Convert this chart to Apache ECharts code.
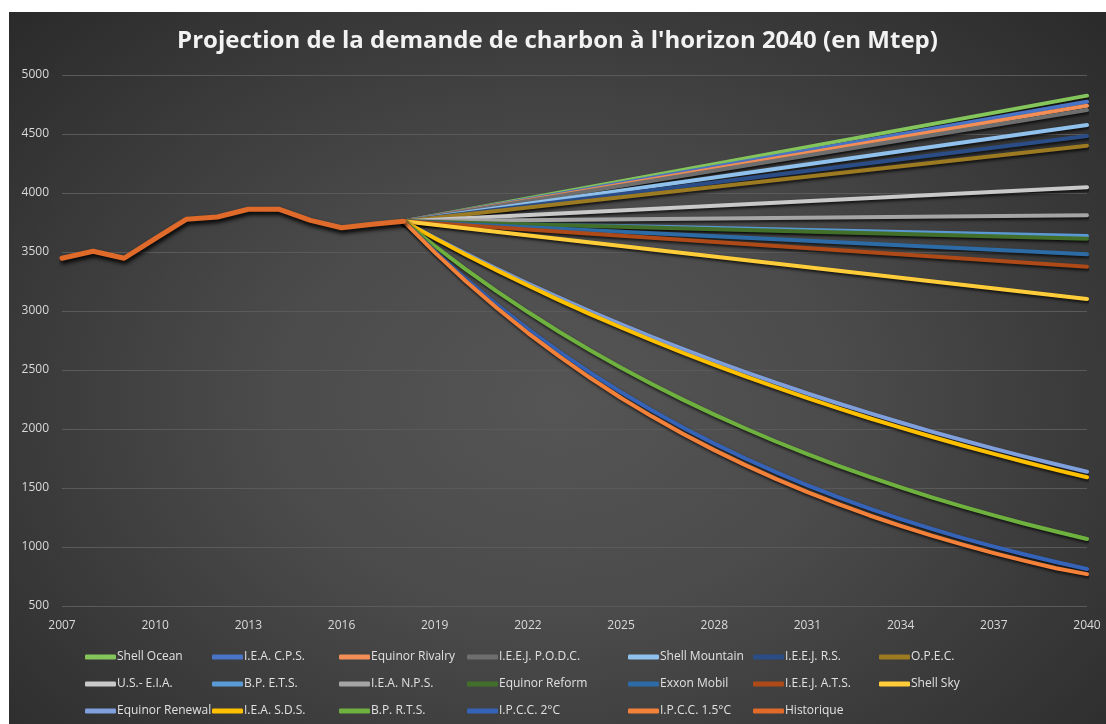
<!DOCTYPE html>
<html>
<head>
<meta charset="utf-8">
<script src="https://cdn.jsdelivr.net/npm/echarts@6/dist/echarts.min.js"></script>
<style>
  html, body { margin: 0; padding: 0; background: #ffffff; width: 1106px; height: 724px; overflow: hidden; }
  #chart {
    position: absolute; left: 9px; top: 12px; width: 1097px; height: 712px;
    background: radial-gradient(ellipse 75% 85% at 50% 55%, #555555 0%, #4b4b4b 35%, #3a3a3a 65%, #262626 100%);
  }
</style>
</head>
<body>
<div id="chart"></div>
<script>
// ---- Data ----
const historyYears = [2007, 2008, 2009, 2010, 2011, 2012, 2013, 2014, 2015, 2016, 2017, 2018];
const historique   = [3447, 3506, 3447, 3613, 3777, 3797, 3862, 3862, 3768, 3706, 3735, 3760];

const projectionYears = [2018, 2019, 2020, 2021, 2022, 2023, 2024, 2025, 2026, 2027, 2028, 2029,
                         2030, 2031, 2032, 2033, 2034, 2035, 2036, 2037, 2038, 2039, 2040];

// straight-line scenarios: value in 2018 and in 2040
const linearNames = ['Shell Ocean', 'I.E.A. C.P.S.', 'Equinor Rivalry', 'I.E.E.J. P.O.D.C.', 'Shell Mountain',
                     'I.E.E.J. R.S.', 'O.P.E.C.', 'U.S.- E.I.A.', 'B.P. E.T.S.', 'I.E.A. N.P.S.',
                     'Equinor Reform', 'Exxon Mobil', 'I.E.E.J. A.T.S.', 'Shell Sky'];
const linear2018 = [3760, 3760, 3760, 3760, 3760, 3760, 3760, 3760, 3760, 3760, 3760, 3760, 3760, 3760];
const linear2040 = [4825, 4774, 4740, 4703, 4576, 4483, 4401, 4049, 3635, 3811, 3612, 3480, 3376, 3102];

// curved scenarios (yearly values 2018-2040)
const equinorRenewal = [3760, 3621, 3486, 3357, 3233, 3113, 2998, 2886, 2779, 2676, 2577, 2482, 2390, 2301, 2216, 2134, 2055, 1978, 1905, 1834, 1766, 1701, 1638];
const ieaSDS         = [3760, 3616, 3477, 3344, 3216, 3092, 2974, 2860, 2750, 2644, 2543, 2446, 2352, 2262, 2175, 2091, 2011, 1934, 1860, 1789, 1720, 1654, 1591];
const bpRTS          = [3760, 3551, 3353, 3167, 2991, 2824, 2667, 2519, 2379, 2247, 2122, 2004, 1892, 1787, 1688, 1594, 1505, 1421, 1342, 1268, 1197, 1131, 1068];
const ipcc2          = [3760, 3507, 3272, 3052, 2847, 2656, 2477, 2311, 2156, 2011, 1876, 1750, 1632, 1523, 1420, 1325, 1236, 1153, 1075, 1003, 936, 873, 814];
const ipcc15         = [3760, 3497, 3252, 3025, 2813, 2617, 2434, 2263, 2105, 1958, 1821, 1694, 1575, 1465, 1363, 1267, 1179, 1096, 1020, 948, 882, 820, 770];

const xTicks = { min: 2007, max: 2040, interval: 3 };
const yTicks = { min: 500, max: 5000, interval: 500 };

// ---- Styles ----
const colors = {
  'Shell Ocean': '#84c65c',
  'I.E.A. C.P.S.': '#4a74c6',
  'Equinor Rivalry': '#f28e56',
  'I.E.E.J. P.O.D.C.': '#6e6e6e',
  'Shell Mountain': '#8fc1ec',
  'I.E.E.J. R.S.': '#2a4d88',
  'O.P.E.C.': '#9c7a22',
  'U.S.- E.I.A.': '#c9c9c9',
  'B.P. E.T.S.': '#5b9bd5',
  'I.E.A. N.P.S.': '#a5a5a5',
  'Equinor Reform': '#42702b',
  'Exxon Mobil': '#2d6ba6',
  'I.E.E.J. A.T.S.': '#ae4a18',
  'Shell Sky': '#ffcd3a',
  'Equinor Renewal': '#7fa0dc',
  'I.E.A. S.D.S.': '#ffc000',
  'B.P. R.T.S.': '#6fb13f',
  'I.P.C.C. 2°C': '#3563b8',
  'I.P.C.C. 1.5°C': '#f4813a',
  'Historique': '#df6a2a'
};

function pairs(xs, ys) { return xs.map((x, i) => [x, ys[i]]); }

const shadow = { shadowColor: 'rgba(0,0,0,0.75)', shadowBlur: 3, shadowOffsetX: 1, shadowOffsetY: 2 };

function lineSeries(name, data, width) {
  return {
    name: name, type: 'line', data: data, showSymbol: false, symbol: 'none',
    lineStyle: Object.assign({ color: colors[name], width: width || 4, cap: 'round', join: 'round' }, shadow),
    itemStyle: { color: colors[name] },
    emphasis: { disabled: true }
  };
}

const series = [];
linearNames.forEach((n, i) => {
  series.push(lineSeries(n, [[2018, linear2018[i]], [2040, linear2040[i]]]));
});
series.push(lineSeries('Equinor Renewal', pairs(projectionYears, equinorRenewal)));
series.push(lineSeries('I.E.A. S.D.S.', pairs(projectionYears, ieaSDS)));
series.push(lineSeries('B.P. R.T.S.', pairs(projectionYears, bpRTS)));
series.push(lineSeries('I.P.C.C. 2°C', pairs(projectionYears, ipcc2)));
series.push(lineSeries('I.P.C.C. 1.5°C', pairs(projectionYears, ipcc15)));
const hist = lineSeries('Historique', pairs(historyYears, historique), 5);
hist.lineStyle.shadowColor = 'rgba(0,0,0,1)';
hist.lineStyle.shadowBlur = 4;
hist.lineStyle.shadowOffsetY = 3;
series.push(hist);

// legend columns (matching the reference layout)
const legendCols = [
  ['Shell Ocean', 'U.S.- E.I.A.', 'Equinor Renewal'],
  ['I.E.A. C.P.S.', 'B.P. E.T.S.', 'I.E.A. S.D.S.'],
  ['Equinor Rivalry', 'I.E.A. N.P.S.', 'B.P. R.T.S.'],
  ['I.E.E.J. P.O.D.C.', 'Equinor Reform', 'I.P.C.C. 2°C'],
  ['Shell Mountain', 'Exxon Mobil', 'I.P.C.C. 1.5°C'],
  ['I.E.E.J. R.S.', 'I.E.E.J. A.T.S.', 'Historique'],
  ['O.P.E.C.', 'Shell Sky']
];
const legendLeft = [76, 203, 330, 458, 619, 744, 870];

const legends = legendCols.map((col, i) => ({
  data: col, orient: 'vertical', left: legendLeft[i], top: 637,
  padding: 0, itemGap: 11, itemWidth: 31, itemHeight: 5, icon: 'roundRect',
  selectedMode: false,
  textStyle: { color: '#e0e0e0', fontFamily: 'Open Sans', fontSize: 12, lineHeight: 16, padding: [0, 0, 0, -4] }
}));

const chart = echarts.init(document.getElementById('chart'), null, { renderer: 'canvas' });
chart.setOption({
  animation: false,
  backgroundColor: 'transparent',
  title: {
    text: "Projection de la demande de charbon à l'horizon 2040 (en Mtep)",
    left: 'center', top: 12,
    textStyle: { color: '#f2f2f2', fontFamily: 'Open Sans', fontWeight: 'bold', fontSize: 24 }
  },
  legend: legends,
  grid: { left: 53, right: 19, top: 63, bottom: 118, containLabel: false },
  xAxis: {
    type: 'value', min: xTicks.min, max: xTicks.max, interval: xTicks.interval,
    axisLine: { show: false }, axisTick: { show: false }, splitLine: { show: false },
    axisLabel: { color: '#d9d9d9', fontFamily: 'Open Sans', fontSize: 12, margin: 14, formatter: v => String(v) }
  },
  yAxis: {
    type: 'value', min: yTicks.min, max: yTicks.max, interval: yTicks.interval,
    axisLine: { show: false }, axisTick: { show: false },
    splitLine: { show: true, lineStyle: { color: '#5a5a5a', width: 1 } },
    axisLabel: { color: '#d9d9d9', fontFamily: 'Open Sans', fontSize: 12, margin: 13, formatter: v => String(v) }
  },
  series: series
});
</script>
</body>
</html>
